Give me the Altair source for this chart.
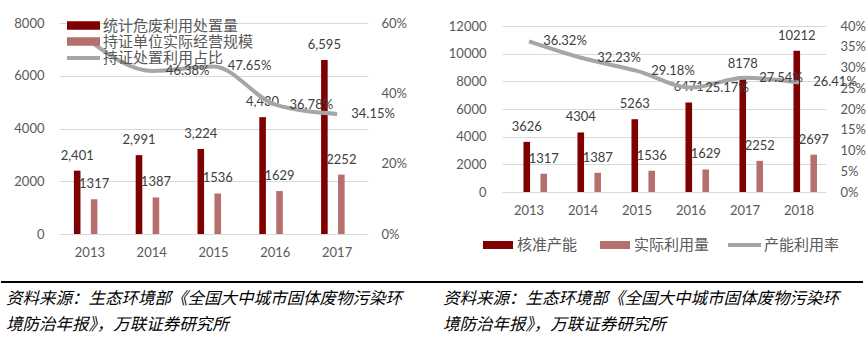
import altair as alt
import pandas as pd

# ---------------- data ----------------
years_l = ["2013", "2014", "2015", "2016", "2017"]
dispose_l = [2401, 2991, 3224, 4430, 6595]
scale_l = [1317, 1387, 1536, 1629, 2252]
rate_l = [0.5485, 0.4638, 0.4765, 0.3678, 0.3415]
names_l = ["统计危废利用处置量", "持证单位实际经营规模", "持证处置利用占比"]

years_r = ["2013", "2014", "2015", "2016", "2017", "2018"]
capacity_r = [3626, 4304, 5263, 6471, 8178, 10212]
used_r = [1317, 1387, 1536, 1629, 2252, 2697]
rate_r = [0.3632, 0.3223, 0.2918, 0.2517, 0.2754, 0.2641]
names_r = ["核准产能", "实际利用量", "产能利用率"]

source_l = "资料来源：生态环境部《全国大中城市固体废物污染环\n境防治年报》，万联证券研究所"
source_r = "资料来源：生态环境部《全国大中城市固体废物污染环\n境防治年报》，万联证券研究所"

DARK = "#7F0000"
LIGHT = "#B5706E"
GRAY = "#A6A6A6"
TXT = "#404040"
AX = "#595959"
CJK = "Noto Sans CJK SC"
NUM = "Lato"


def rect_path(w, h):
    r = h / w
    return f"M-1,-{r:.4f}H1V{r:.4f}H-1Z"


def wide_path(w, h, s):
    # path in units where sqrt(size)=s covers [-1,1]
    hx = w / s
    hy = h / s
    return f"M-{hx:.4f},-{hy:.4f}H{hx:.4f}V{hy:.4f}H-{hx:.4f}Z"


def wide_stroke(w, s):
    hx = w / s
    return f"M-{hx:.4f},0H{hx:.4f}"


def panel(years, a, b, rate, names, a_labels, b_labels, w, h, yrange, ymax, yvals,
          rmax, rvals, pad_in, off_in, lpad, rpad, bar_leg, line_leg, skip_first_rate,
          src, src_x, deco=False):
    bars_df = pd.DataFrame({
        "year": years * 2,
        "series": [names[0]] * len(years) + [names[1]] * len(years),
        "value": a + b,
        "label": a_labels + b_labels,
    })
    line_df = pd.DataFrame({
        "year": years,
        "series": [names[2]] * len(years),
        "rate": rate,
        "label": [f"{r * 100:.2f}%" for r in rate],
    })

    x = alt.X("year:N", sort=years,
              scale=alt.Scale(paddingInner=pad_in, paddingOuter=pad_in / 2),
              axis=alt.Axis(title=None, labelAngle=0, labelPadding=12, grid=False,
                            domain=False, ticks=False))
    xo = alt.XOffset("series:N", sort=names[:2],
                     scale=alt.Scale(paddingInner=off_in, paddingOuter=0))
    y = alt.Y("value:Q",
              scale=alt.Scale(domain=[0, ymax], range=yrange, nice=False),
              axis=alt.Axis(title=None, values=yvals, format="d", labelPadding=lpad,
                            grid=True, domain=False, ticks=False))
    yr = alt.Y("rate:Q",
               scale=alt.Scale(domain=[0, rmax], range=yrange, nice=False),
               axis=alt.Axis(title=None, orient="right", values=rvals, format=".0%",
                             labelPadding=rpad, grid=False, domain=False, ticks=False))

    bars = alt.Chart(bars_df).mark_bar().encode(
        x=x, xOffset=xo, y=y,
        color=alt.Color("series:N", sort=names[:2],
                        scale=alt.Scale(domain=names[:2], range=[DARK, LIGHT]),
                        legend=alt.Legend(**bar_leg)),
    )
    bar_text = alt.Chart(bars_df).mark_text(dy=-15, font=NUM, fontSize=13, color=TXT).encode(
        x=x, xOffset=xo, y=y, text="label:N"
    )
    line = alt.Chart(line_df).mark_line(interpolate="monotone", strokeWidth=4).encode(
        x=x, y=yr,
        stroke=alt.Stroke("series:N", scale=alt.Scale(domain=[names[2]], range=[GRAY]),
                          legend=alt.Legend(**line_leg)),
    )
    lt = alt.Chart(line_df)
    if skip_first_rate:
        lt = lt.transform_filter(alt.datum.year != years[0])
    line_text = lt.mark_text(dx=36, font=NUM, fontSize=13, color=TXT).encode(
        x=x, y=yr, text="label:N"
    )
    one = pd.DataFrame({"t": [src]})
    src_text = alt.Chart(one).mark_text(
        align="left", baseline="middle", font=CJK, fontSize=16.5, fontStyle="italic",
        color="black", lineBreak="\n", lineHeight=26,
    ).encode(x=alt.value(src_x), y=alt.value(276), text="t:N")

    layers = [alt.layer(bars, bar_text), alt.layer(line, line_text), src_text]
    if deco:
        rule = alt.Chart(one).mark_rule(color="black", strokeWidth=2).encode(
            x=alt.value(-58), x2=alt.value(804), y=alt.value(259))
        anchor = alt.Chart(one).mark_rule(color="white", strokeWidth=1).encode(
            x=alt.value(-58), x2=alt.value(0), y=alt.value(-22.5))
        layers += [rule, anchor]
    return alt.layer(*layers).resolve_scale(y="independent").properties(width=w, height=h)


leg_common = dict(title=None, orient="none", labelFont=CJK, labelFontSize=15,
                  labelColor=AX, padding=0, labelLimit=300)

left = panel(
    years_l, dispose_l, scale_l, rate_l, names_l,
    [f"{v:,}" for v in dispose_l], [str(v) for v in scale_l],
    309, 211, [211, 0], 8000, [0, 2000, 4000, 6000, 8000],
    0.6, [0, 0.2, 0.4, 0.6], 0.482, 0.222, 15, 13,
    dict(leg_common, legendX=17, legendY=-5, direction="vertical",
         symbolType=wide_path(33, 8.5, 8), symbolSize=64, symbolStrokeWidth=0,
         labelOffset=12, rowPadding=0),
    dict(leg_common, legendX=17, legendY=27.5, direction="vertical",
         symbolType=wide_stroke(33, 8), symbolSize=64, symbolStrokeWidth=4,
         labelOffset=12),
    True, source_l, -53, deco=True,
)

right = panel(
    years_r, capacity_r, used_r, rate_r, names_r,
    [str(v) for v in capacity_r], [str(v) for v in used_r],
    324, 169, [169, 3], 12000, [0, 2000, 4000, 6000, 8000, 10000, 12000],
    0.4, [0, 0.05, 0.1, 0.15, 0.2, 0.25, 0.3, 0.35, 0.4], 0.4815, 0.133, 16, 14,
    dict(leg_common, legendX=-19, legendY=207, direction="horizontal",
         symbolType=rect_path(30, 8), symbolSize=900, symbolStrokeWidth=0,
         labelOffset=4, columnPadding=22),
    dict(leg_common, legendX=224, legendY=203.5, direction="horizontal",
         symbolType="stroke", symbolSize=1089, symbolStrokeWidth=4, labelOffset=1),
    False, source_r, -59,
)

chart = alt.hconcat(left, right, spacing=134, bounds="flush").resolve_scale(
    color="independent", stroke="independent"
).resolve_legend(color="independent", stroke="independent").properties(
    padding=0
).configure_view(stroke=None).configure_axis(
    labelFont=NUM, labelFontSize=13, labelColor=AX, gridColor="#D9D9D9", gridWidth=1
)

chart.save("out.html", embed_options={"renderer": "svg", "actions": False})
